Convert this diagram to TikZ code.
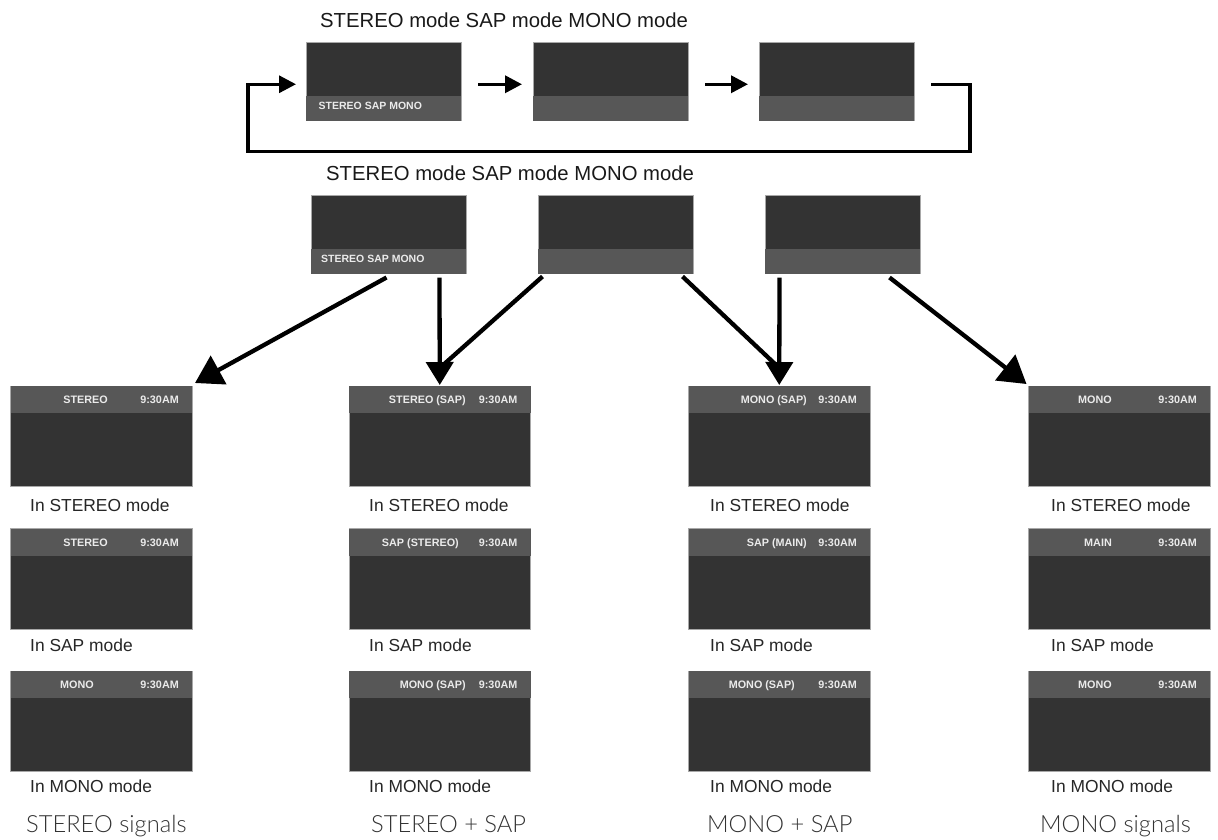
\documentclass[tikz,border=0pt]{standalone}
\usepackage{fontspec}
\setmainfont{Liberation Sans}
\newfontfamily\capfont{Lato Light}
\usetikzlibrary{arrows.meta,calc}
\definecolor{scrdark}{HTML}{333333}
\definecolor{scrband}{HTML}{575757}
\definecolor{scredge}{HTML}{A8A8A8}
\tikzset{
  x=1pt,y=-1pt,
  screenbody/.style={draw=scredge,line width=0.6pt,fill=scrdark,inner sep=0pt,outer sep=0pt,anchor=north west},
  band/.style={fill=scrband,inner sep=0pt,outer sep=0pt,anchor=north west},
  osd/.style={text=white!92!black,font=\fontsize{10.8}{12}\selectfont\bfseries,inner sep=0pt,anchor=base east},
  osdw/.style={text=white!92!black,font=\fontsize{10.5}{12}\selectfont\bfseries,inner sep=0pt,anchor=base west},
  modehead/.style={font=\fontsize{20.3}{24}\selectfont,inner sep=0pt,anchor=base west,text=black!90},
  modelabel/.style={font=\fontsize{17.4}{20}\selectfont,inner sep=0pt,anchor=base west,text=black!85},
  signal/.style={font=\capfont\fontsize{23.7}{28}\selectfont,inner sep=0pt,anchor=base west,text=black!80},
  smallarrow/.style={line width=3.5pt,-{Triangle[length=17pt,width=17pt]}},
  bigarrow/.style={line width=4.3pt,-{Triangle[length=23pt,width=27pt]}},
  diagarrow/.style={line width=4.3pt,-{Triangle[length=27pt,width=32pt]}},
  sharedline/.style={line width=4.3pt},
}
% small source screens: band at the bottom
\newcommand{\srcscreen}[3]{%
  \node[screenbody,minimum width=155pt,minimum height=78.5pt] (#1) at (#2,#3) {};
  \node[band,minimum width=155pt,minimum height=25pt] (#1b) at (#2,#3+53.5) {};
}
% result screens: band at the top; #4 status text, #5 right end of status text
\newcommand{\resscreen}[5]{%
  \node[screenbody,minimum width=181.5pt,minimum height=100.5pt] (#1) at (#2,#3) {};
  \node[band,minimum width=181.5pt,minimum height=27pt] (#1b) at (#2,#3) {};
  \node[osd] (#1s) at (#5,#3+17.5) {#4};
  \node[osd] (#1t) at (#2+168.5,#3+17.5) {9:30AM};
}
\begin{document}
\begin{tikzpicture}
\useasboundingbox (0,0) rectangle (1218,839);
\node[modehead] (h1) at (320,27) {STEREO mode SAP mode MONO mode};
\node[modehead] (h2) at (326,180.5) {STEREO mode SAP mode MONO mode};

\srcscreen{a1}{306}{42}
\srcscreen{a2}{533}{42}
\srcscreen{a3}{759}{42}
\node[osdw] (a1t) at (318.5,109) {STEREO SAP MONO};

\srcscreen{b1}{311}{195}
\srcscreen{b2}{538}{195}
\srcscreen{b3}{765}{195}
\node[osdw] (b1t) at (321,262) {STEREO SAP MONO};

% column 1
\resscreen{c11}{10.5}{386}{STEREO}{108}
\resscreen{c12}{10.5}{528.5}{STEREO}{108}
\resscreen{c13}{10.5}{671}{MONO}{94}
% column 2
\resscreen{c21}{349}{386}{STEREO (SAP)}{466}
\resscreen{c22}{349}{528.5}{SAP (STEREO)}{459}
\resscreen{c23}{349}{671}{MONO (SAP)}{466}
% column 3
\resscreen{c31}{688.5}{386}{MONO (SAP)}{807}
\resscreen{c32}{688.5}{528.5}{SAP (MAIN)}{807}
\resscreen{c33}{688.5}{671}{MONO (SAP)}{795}
% column 4
\resscreen{c41}{1028.5}{386}{MONO}{1112}
\resscreen{c42}{1028.5}{528.5}{MAIN}{1112}
\resscreen{c43}{1028.5}{671}{MONO}{1112}

% mode labels
\foreach \n/\x in {1/30,2/369,3/710,4/1051}{
  \node[modelabel] (l\n a) at (\x,511.5) {In STEREO mode};
  \node[modelabel] (l\n b) at (\x,651) {In SAP mode};
  \node[modelabel] (l\n c) at (\x,792.5) {In MONO mode};
}
\node[signal] (s1) at (26,832.5) {STEREO signals};
\node[signal] (s2) at (371,832.5) {STEREO + SAP};
\node[signal] (s3) at (707,832.5) {MONO + SAP};
\node[signal] (s4) at (1040,832.5) {MONO signals};

% cycle arrows
\draw[smallarrow] ([xshift=17pt,yshift=-3pt]a1.east) -- ([xshift=-11pt,yshift=-3pt]a2.west);
\draw[smallarrow] ([xshift=17pt,yshift=-3pt]a2.east) -- ([xshift=-11pt,yshift=-3pt]a3.west);
\draw[smallarrow,line width=3.2pt,line join=miter]
  ([xshift=17pt,yshift=-3pt]a3.east) -| ([xshift=56pt,yshift=-31pt]a3.south east)
  -- ([xshift=-58pt,yshift=-31pt]a1.south west) |- ([xshift=-10pt,yshift=-3pt]a1.west);

% fan-out arrows
\draw[diagarrow] ([xshift=-2pt,yshift=-4pt]b1.south) -- ([xshift=3pt,yshift=3pt]c11.north east);
\draw[bigarrow] ([xshift=51pt,yshift=-4pt]b1.south) -- ([yshift=1pt]c21.north);
\draw[sharedline] ([xshift=-73pt,yshift=-3pt]b2.south) -- ([yshift=18pt]c21.north);
\draw[sharedline] ([xshift=67pt,yshift=-3pt]b2.south) -- ([yshift=18pt]c31.north);
\draw[bigarrow] ([xshift=-63pt,yshift=-4pt]b3.south) -- ([yshift=1pt]c31.north);
\draw[diagarrow] ([xshift=47pt,yshift=-4pt]b3.south) -- ([xshift=-2pt,yshift=2pt]c41.north west);
\end{tikzpicture}
\end{document}
